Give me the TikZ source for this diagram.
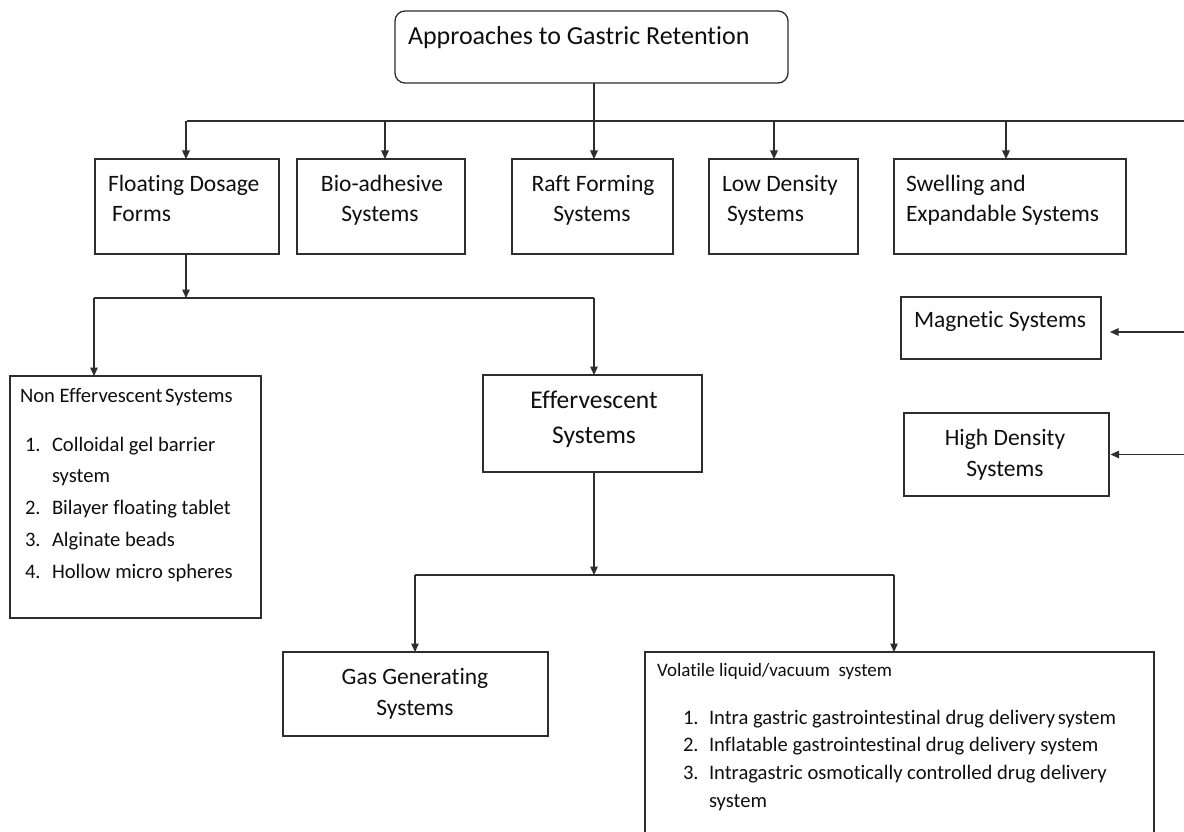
\documentclass[tikz,border=0pt]{standalone}
\usepackage{fontspec}
\setmainfont{Carlito}[Ligatures=NoCommon]
\usetikzlibrary{arrows.meta}
\definecolor{linec}{RGB}{45,45,45}
\definecolor{txtc}{RGB}{15,15,15}
\newcommand\sztitle{\fontsize{26}{31}\selectfont}
\newcommand\szmain{\fontsize{23.5}{28}\selectfont}
\newcommand\szeff{\fontsize{25.5}{30}\selectfont}
\newcommand\szlist{\fontsize{20.6}{25}\selectfont}
\newcommand\szvol{\fontsize{19}{23}\selectfont}
\begin{document}
\begin{tikzpicture}[x=1pt,y=-1pt,
  box/.style={draw=linec, line width=1.3pt, rectangle, inner sep=0pt, outer sep=0pt},
  lbl/.style={inner sep=0pt, outer sep=0pt, text=txtc},
  lw/.style={lbl, anchor=base west},
  lc/.style={lbl, anchor=base},
  wire/.style={draw=linec, line width=1.3pt},
  arr/.style={wire, -{Triangle[length=8.5pt,width=7.5pt]}}]
\clip (0,0) rectangle (1184,832);
\fill[white] (0,0) rectangle (1184,832);

% boxes
\node[box, rounded corners=10pt, minimum width=393pt, minimum height=72pt] (top) at (591.5,47) {};
\node[box, minimum width=184pt, minimum height=95pt] (fdf) at (187,206.5) {};
\node[box, minimum width=168pt, minimum height=95pt] (bio) at (381,206.5) {};
\node[box, minimum width=161pt, minimum height=95pt] (raft) at (592.5,206.5) {};
\node[box, minimum width=149pt, minimum height=95pt] (low) at (783.5,206.5) {};
\node[box, minimum width=232pt, minimum height=95pt] (swell) at (1010,206.5) {};
\node[box, minimum width=200pt, minimum height=62pt] (mag) at (1001,328) {};
\node[box, minimum width=205pt, minimum height=83pt] (high) at (1006.5,454.5) {};
\node[box, minimum width=251pt, minimum height=242pt] (noneff) at (135.5,497) {};
\node[box, minimum width=219pt, minimum height=97pt] (eff) at (592.5,423.5) {};
\node[box, minimum width=265pt, minimum height=84pt] (gas) at (415.5,694) {};
\node[box, minimum width=509pt, minimum height=210pt] (vol) at (899.5,757) {};

% texts
\node[lw, font=\sztitle] (ttop) at (408,45) {Approaches to Gastric Retention};
\node[lw, font=\szmain] (tfdf1) at (108,191) {Floating Dosage};
\node[lw, font=\szmain] (tfdf2) at (112,221) {Forms};
\node[lc, font=\szmain] (tbio1) at (382,191) {Bio-adhesive};
\node[lc, font=\szmain] (tbio2) at (380,221) {Systems};
\node[lc, font=\szmain] (traft1) at (593,191) {Raft Forming};
\node[lc, font=\szmain] (traft2) at (592,221) {Systems};
\node[lw, font=\szmain] (tlow1) at (722,191) {Low Density};
\node[lw, font=\szmain] (tlow2) at (727,221) {Systems};
\node[lw, font=\szmain] (tsw1) at (906,191) {Swelling and};
\node[lw, font=\szmain] (tsw2) at (906,221) {Expandable Systems};
\node[lw, font=\szmain] (tmag) at (914,327) {Magnetic Systems};
\node[lc, font=\szmain] (thigh1) at (1005,445) {High Density};
\node[lc, font=\szmain] (thigh2) at (1005,476) {Systems};
\node[lc, font=\szeff] (teff1) at (594,408) {Effervescent};
\node[lc, font=\szeff] (teff2) at (594,443) {Systems};
\node[lc, font=\szmain] (tgas1) at (415,684) {Gas Generating};
\node[lc, font=\szmain] (tgas2) at (415,715) {Systems};

\node[lw, font=\szlist] (tne) at (20,402) {Non Effervescent\hspace{-2pt} Systems};
\node[lw, font=\szlist] (ne1n) at (25,451) {1.};
\node[lw, font=\szlist] (ne1) at (52,451) {Colloidal gel barrier};
\node[lw, font=\szlist] (ne1b) at (52,482) {system};
\node[lw, font=\szlist] (ne2n) at (25,514) {2.};
\node[lw, font=\szlist] (ne2) at (52,514) {Bilayer floating tablet};
\node[lw, font=\szlist] (ne3n) at (25,546) {3.};
\node[lw, font=\szlist] (ne3) at (52,546) {Alginate beads};
\node[lw, font=\szlist] (ne4n) at (25,578) {4.};
\node[lw, font=\szlist] (ne4) at (52,578) {Hollow micro spheres};

\node[lw, font=\szvol] (tvol) at (657,676) {Volatile liquid/vacuum\ \ system};
\node[lw, font=\szlist] (v1n) at (683,724) {1.};
\node[lw, font=\szlist] (v1) at (709,724) {Intra gastric gastrointestinal drug delivery\hspace{-2pt} system};
\node[lw, font=\szlist] (v2n) at (683,751) {2.};
\node[lw, font=\szlist] (v2) at (709,751) {Inflatable gastrointestinal drug delivery system};
\node[lw, font=\szlist] (v3n) at (683,779) {3.};
\node[lw, font=\szlist] (v3) at (709,779) {Intragastric osmotically controlled drug delivery};
\node[lw, font=\szlist] (v3b) at (709,807) {system};

% connector junctions
\coordinate (j1) at (594,121);
\coordinate (r1) at (1184,121);
\coordinate (r2) at (1184,332);
\coordinate (r3) at (1184,455);
\coordinate (j2) at (186,298);
\coordinate (j3) at (594,575);

\draw[wire] (top.south -| j1) -- (j1);
\draw[wire] (fdf.north |- j1) -- (r1);
\draw[arr] ([xshift=-1pt]fdf.north |- j1) -- ([xshift=-1pt]fdf.north);
\draw[arr] ([xshift=4pt]bio.north |- j1) -- ([xshift=4pt]bio.north);
\draw[arr] ([xshift=1.5pt]raft.north |- j1) -- ([xshift=1.5pt]raft.north);
\draw[arr] ([xshift=-9.5pt]low.north |- j1) -- ([xshift=-9.5pt]low.north);
\draw[arr] ([xshift=-4pt]swell.north |- j1) -- ([xshift=-4pt]swell.north);
\draw[arr] (r2) -- ([xshift=9pt]mag.east |- r2);
\draw[arr] (r3 |- high.east) -- ([xshift=1.5pt]high.east);

\draw[arr] ([xshift=-1pt]fdf.south) -- (j2);
\draw[wire] ([xshift=-41.5pt]noneff.north |- j2) -- ([xshift=1.5pt]eff.north |- j2);
\draw[arr] ([xshift=-41.5pt]noneff.north |- j2) -- ([xshift=-41.5pt]noneff.north);
\draw[arr] ([xshift=1.5pt]eff.north |- j2) -- ([xshift=1.5pt]eff.north);

\draw[arr] ([xshift=1.5pt]eff.south) -- (j3);
\draw[wire] ([xshift=-0.5pt]gas.north |- j3) -- ([xshift=-5.5pt]vol.north |- j3);
\draw[arr] ([xshift=-0.5pt]gas.north |- j3) -- ([xshift=-0.5pt]gas.north);
\draw[arr] ([xshift=-5.5pt]vol.north |- j3) -- ([xshift=-5.5pt]vol.north);
\end{tikzpicture}
\end{document}
